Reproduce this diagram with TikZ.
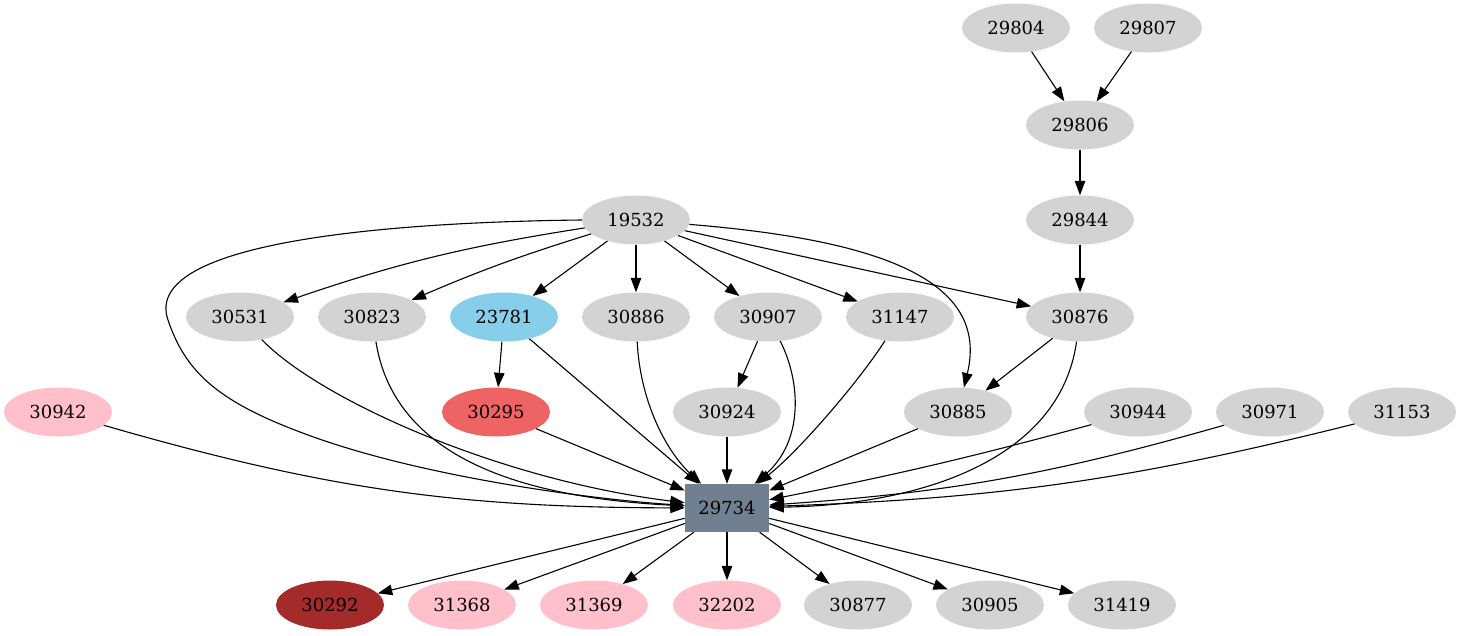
\documentclass[tikz,border=0pt]{standalone}
\usepackage{fontspec}
\setmainfont{DejaVu Serif}
\usepackage{tikz}
\usetikzlibrary{shapes.geometric, arrows.meta}
\definecolor{nodegray}{RGB}{211, 211, 211}
\definecolor{nodepink}{RGB}{255, 192, 203}
\definecolor{nodesky}{RGB}{135, 206, 235}
\definecolor{nodered}{RGB}{238, 99, 99}
\definecolor{nodebrown}{RGB}{165, 42, 42}
\definecolor{nodeslate}{RGB}{112, 128, 144}

\begin{document}
\begin{tikzpicture}[
    x=1pt, y=1pt,
    gnode/.style={ellipse, fill=nodegray, minimum width=108pt, minimum height=49pt,
                  inner sep=0pt, font=\fontsize{18}{20}\selectfont},
    hub/.style={rectangle, fill=nodeslate, minimum width=84pt, minimum height=48pt,
                inner sep=0pt, font=\fontsize{18}{20}\selectfont},
    arrow/.style={->, >={Triangle[length=14.5pt, width=10.5pt]}, line width=1.1pt, black}
]
\useasboundingbox (0,0) rectangle (1463,-635);

% Top chain
\node[gnode] (n29804) at (1016,-28) {29804};
\node[gnode] (n29807) at (1148,-28) {29807};
\node[gnode] (n29806) at (1080,-125) {29806};
\node[gnode] (n29844) at (1080,-220) {29844};
\node[gnode] (n19532) at (636,-220) {19532};

% Second row
\node[gnode] (n30531) at (240,-317) {30531};
\node[gnode] (n30823) at (372,-317) {30823};
\node[gnode, fill=nodesky] (n23781) at (504,-317) {23781};
\node[gnode] (n30886) at (636,-317) {30886};
\node[gnode] (n30907) at (768,-317) {30907};
\node[gnode] (n31147) at (900,-317) {31147};
\node[gnode] (n30876) at (1080,-317) {30876};

% Third row
\node[gnode, fill=nodepink] (n30942) at (58,-412) {30942};
\node[gnode, fill=nodered] (n30295) at (496,-412) {30295};
\node[gnode] (n30924) at (727,-412) {30924};
\node[gnode] (n30885) at (958,-412) {30885};
\node[gnode] (n30944) at (1138,-412) {30944};
\node[gnode] (n30971) at (1270,-412) {30971};
\node[gnode] (n31153) at (1402,-412) {31153};

% Hub
\node[hub] (n29734) at (727,-508) {29734};

% Bottom row
\node[gnode, fill=nodebrown] (n30292) at (330,-605) {30292};
\node[gnode, fill=nodepink] (n31368) at (462,-605) {31368};
\node[gnode, fill=nodepink] (n31369) at (594,-605) {31369};
\node[gnode, fill=nodepink] (n32202) at (727,-605) {32202};
\node[gnode] (n30877) at (858,-605) {30877};
\node[gnode] (n30905) at (990,-605) {30905};
\node[gnode] (n31419) at (1122,-605) {31419};

% Arrows
\draw[arrow] (n29804) -- (n29806);
\draw[arrow] (n29807) -- (n29806);
\draw[arrow] (n29806) -- (n29844);
\draw[arrow] (n29844) -- (n30876);

\draw[arrow] (n19532) to[bend right=5] (n30531);
\draw[arrow] (n19532) to[bend right=3] (n30823);
\draw[arrow] (n19532) -- (n23781);
\draw[arrow] (n19532) -- (n30886);
\draw[arrow] (n19532) -- (n30907);
\draw[arrow] (n19532) -- (n31147);
\draw[arrow] (n19532) -- (n30876);
\draw[arrow] (n19532) .. controls (880,-240) and (990,-280) .. (n30885);
\draw[arrow] (n19532.west) .. controls (400,-222) and (140,-240) .. (168,-320)
    .. controls (185,-370) and (215,-400) .. (300,-432)
    .. controls (420,-478) and (600,-500) .. (n29734);

\draw[arrow] (n23781) -- (n30295);
\draw[arrow] (n23781) -- (n29734);
\draw[arrow] (n30907) -- (n30924);
\draw[arrow] (n30876) -- (n30885);

\draw[arrow] (n30531) .. controls (320,-400) and (500,-480) .. (n29734);
\draw[arrow] (n30823) .. controls (390,-430) and (470,-495) .. (n29734);
\draw[arrow] (n30886) .. controls (640,-400) and (665,-450) .. (n29734);
\draw[arrow] (n30907) .. controls (800,-380) and (805,-440) .. (n29734);
\draw[arrow] (n31147) .. controls (860,-380) and (800,-450) .. (n29734);
\draw[arrow] (n30876) .. controls (1060,-460) and (920,-505) .. (n29734);

\draw[arrow] (n30942) to[bend right=8] (n29734);
\draw[arrow] (n30295) -- (n29734);
\draw[arrow] (n30924) -- (n29734);
\draw[arrow] (n30885) -- (n29734);
\draw[arrow] (n30944) to[bend left=2] (n29734);
\draw[arrow] (n30971) to[bend left=6] (n29734);
\draw[arrow] (n31153) to[bend left=6] (n29734);

\draw[arrow] (n29734) -- (n30292);
\draw[arrow] (n29734) -- (n31368);
\draw[arrow] (n29734) -- (n31369);
\draw[arrow] (n29734) -- (n32202);
\draw[arrow] (n29734) -- (n30877);
\draw[arrow] (n29734) -- (n30905);
\draw[arrow] (n29734) -- (n31419);

\end{tikzpicture}
\end{document}
